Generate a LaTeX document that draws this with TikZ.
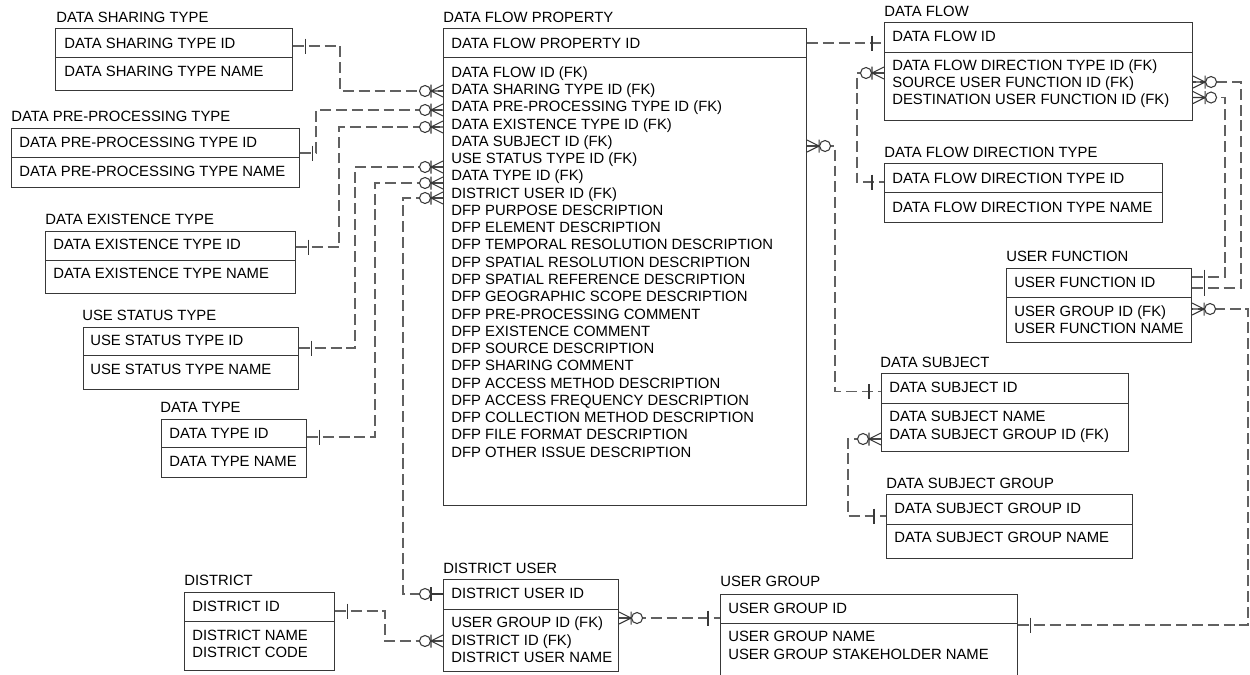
\documentclass[tikz,border=0pt]{standalone}
\usepackage{fontspec}
\setmainfont{Liberation Sans}

% entity box: name, left, top, right, divider, bottom
\newcommand\entity[6]{%
  \node[frame, minimum width={(#4-#2)*0.02cm}, minimum height={(#5-#3)*0.02cm}] (#1) at (#2,#3) {};
  \node[frame, minimum width={(#4-#2)*0.02cm}, minimum height={(#6-#5)*0.02cm}] (#1-a) at (#2,#5) {};
}
% relationship ends: coordinate on the box edge, direction (+1 = leaves to the right)
\newcommand\oneend[2]{\begin{scope}[shift={(#1)},xscale=#2]
  \draw[sym] (12,-7.5) -- (12,7.5);\end{scope}}
\newcommand\zeroone[2]{\begin{scope}[shift={(#1)},xscale=#2]
  \draw[sym] (0,0) -- (12,0) (12,-7) -- (12,7);
  \draw[sym,fill=white] (18,0) circle[radius=5.5];\end{scope}}
\newcommand\zeromany[2]{\begin{scope}[shift={(#1)},xscale=#2]
  \draw[sym] (0,-6) -- (12,0) -- (0,6) (0,0) -- (12,0) (12,-6.5) -- (12,6.5);
  \draw[sym,fill=white] (18,0) circle[radius=5.5];\end{scope}}

\begin{document}
\begin{tikzpicture}[x=0.02cm,y=-0.02cm,
  frame/.style={draw=black!78, line width=0.6pt, fill=white, inner sep=0pt, anchor=north west},
  lbl/.style={font=\fontsize{8.45}{10}\selectfont, inner sep=0pt, text height=6pt, text depth=0pt, anchor=west},
  conn/.style={draw=black!62, line width=0.6pt, dash pattern=on 6.2pt off 2.8pt},
  sym/.style={draw=black!78, line width=0.6pt},
]
\fill[white] (0,0) rectangle (1250,674);
\clip (0,0) rectangle (1250,674);

% ---------- entities ----------
\entity{dst}{55}{28}{292}{57}{90}
\node[lbl] (dst-t) at (56,17) {DATA SHARING TYPE};
\node[lbl] (dst-k) at (64,43) {DATA SHARING TYPE ID};
\node[lbl] (dst-f) at (64,71) {DATA SHARING TYPE NAME};

\entity{dpt}{11}{127.5}{299}{156.5}{187}
\node[lbl] (dpt-t) at (11,116) {DATA PRE-PROCESSING TYPE};
\node[lbl] (dpt-k) at (19,142) {DATA PRE-PROCESSING TYPE ID};
\node[lbl] (dpt-f) at (19,171) {DATA PRE-PROCESSING TYPE NAME};

\entity{det}{45}{230.5}{295}{260}{293}
\node[lbl] (det-t) at (45,219) {DATA EXISTENCE TYPE};
\node[lbl] (det-k) at (53,244) {DATA EXISTENCE TYPE ID};
\node[lbl] (det-f) at (53,273) {DATA EXISTENCE TYPE NAME};

\entity{ust}{82.5}{327}{298}{354.5}{389}
\node[lbl] (ust-t) at (82,315) {USE STATUS TYPE};
\node[lbl] (ust-k) at (90,340) {USE STATUS TYPE ID};
\node[lbl] (ust-f) at (90,369) {USE STATUS TYPE NAME};

\entity{dty}{161}{419}{306}{447}{477}
\node[lbl] (dty-t) at (160,407) {DATA TYPE};
\node[lbl] (dty-k) at (169,433) {DATA TYPE ID};
\node[lbl] (dty-f) at (169,461) {DATA TYPE NAME};

\entity{dfp}{443}{28}{806}{57}{505}
\node[lbl] (dfp-t) at (443,17) {DATA FLOW PROPERTY};
\node[lbl] (dfp-k) at (451,43) {DATA FLOW PROPERTY ID};
\foreach \t [count=\i from 0] in {DATA FLOW ID (FK), DATA SHARING TYPE ID (FK),
  DATA PRE-PROCESSING TYPE ID (FK), DATA EXISTENCE TYPE ID (FK), DATA SUBJECT ID (FK),
  USE STATUS TYPE ID (FK), DATA TYPE ID (FK), DISTRICT USER ID (FK),
  DFP PURPOSE DESCRIPTION, DFP ELEMENT DESCRIPTION, DFP TEMPORAL RESOLUTION DESCRIPTION,
  DFP SPATIAL RESOLUTION DESCRIPTION, DFP SPATIAL REFERENCE DESCRIPTION,
  DFP GEOGRAPHIC SCOPE DESCRIPTION, DFP PRE-PROCESSING COMMENT, DFP EXISTENCE COMMENT,
  DFP SOURCE DESCRIPTION, DFP SHARING COMMENT, DFP ACCESS METHOD DESCRIPTION,
  DFP ACCESS FREQUENCY DESCRIPTION, DFP COLLECTION METHOD DESCRIPTION,
  DFP FILE FORMAT DESCRIPTION, DFP OTHER ISSUE DESCRIPTION}
  \node[lbl] (dfp-f\i) at (451,{72+17.27*\i}) {\t};

\entity{df}{884}{22}{1192}{52}{120}
\node[lbl] (df-t) at (884,11) {DATA FLOW};
\node[lbl] (df-k) at (892,36) {DATA FLOW ID};
\node[lbl] (df-f1) at (892,65.5) {DATA FLOW DIRECTION TYPE ID (FK)};
\node[lbl] (df-f2) at (892,82.5) {SOURCE USER FUNCTION ID (FK)};
\node[lbl] (df-f3) at (892,99.5) {DESTINATION USER FUNCTION ID (FK)};

\entity{dfdt}{884}{163}{1162}{192}{222}
\node[lbl] (dfdt-t) at (884,152) {DATA FLOW DIRECTION TYPE};
\node[lbl] (dfdt-k) at (892,178) {DATA FLOW DIRECTION TYPE ID};
\node[lbl] (dfdt-f) at (892,207) {DATA FLOW DIRECTION TYPE NAME};

\entity{uf}{1006}{268}{1191}{297}{342}
\node[lbl] (uf-t) at (1006,256) {USER FUNCTION};
\node[lbl] (uf-k) at (1014,282) {USER FUNCTION ID};
\node[lbl] (uf-f1) at (1014,311) {USER GROUP ID (FK)};
\node[lbl] (uf-f2) at (1014,328) {USER FUNCTION NAME};

\entity{ds}{881}{373.3}{1128}{402.7}{451}
\node[lbl] (ds-t) at (880,362) {DATA SUBJECT};
\node[lbl] (ds-k) at (889,387) {DATA SUBJECT ID};
\node[lbl] (ds-f1) at (889,416.5) {DATA SUBJECT NAME};
\node[lbl] (ds-f2) at (889,434) {DATA SUBJECT GROUP ID (FK)};

\entity{dsg}{886}{494}{1132}{523.7}{557.7}
\node[lbl] (dsg-t) at (886,483) {DATA SUBJECT GROUP};
\node[lbl] (dsg-k) at (894,508) {DATA SUBJECT GROUP ID};
\node[lbl] (dsg-f) at (894,537) {DATA SUBJECT GROUP NAME};

\entity{dist}{184}{591.7}{334}{620.7}{670}
\node[lbl] (dist-t) at (184,580) {DISTRICT};
\node[lbl] (dist-k) at (192,606) {DISTRICT ID};
\node[lbl] (dist-f1) at (192,635) {DISTRICT NAME};
\node[lbl] (dist-f2) at (192,652) {DISTRICT CODE};

\entity{du}{443}{579.3}{618}{608.5}{671}
\node[lbl] (du-t) at (443,568) {DISTRICT USER};
\node[lbl] (du-k) at (451,593.5) {DISTRICT USER ID};
\node[lbl] (du-f1) at (451,622) {USER GROUP ID (FK)};
\node[lbl] (du-f2) at (451,640) {DISTRICT ID (FK)};
\node[lbl] (du-f3) at (451,657.5) {DISTRICT USER NAME};

\entity{ug}{720}{594}{1017}{623}{700}
\node[lbl] (ug-t) at (720,581) {USER GROUP};
\node[lbl] (ug-k) at (728,608) {USER GROUP ID};
\node[lbl] (ug-f1) at (728,636) {USER GROUP NAME};
\node[lbl] (ug-f2) at (728,654) {USER GROUP STAKEHOLDER NAME};

% ---------- connector end points ----------
\coordinate (c1a) at (dst.east |- 0,46);    \coordinate (c1b) at (dfp-a.west |- 0,91);
\coordinate (c2a) at (dpt.east |- 0,153);   \coordinate (c2b) at (dfp-a.west |- 0,110);
\coordinate (c3a) at (det.east |- 0,247);   \coordinate (c3b) at (dfp-a.west |- 0,127);
\coordinate (c4a) at (ust.east |- 0,348);   \coordinate (c4b) at (dfp-a.west |- 0,167);
\coordinate (c5a) at (dty.east |- 0,437);   \coordinate (c5b) at (dfp-a.west |- 0,183);
\coordinate (c6a) at (du.west |- 0,594);    \coordinate (c6b) at (dfp-a.west |- 0,198);
\coordinate (c7a) at (dist.east |- 0,611);  \coordinate (c7b) at (du-a.west |- 0,641);
\coordinate (c8a) at (ug.west |- 0,618);    \coordinate (c8b) at (du-a.east |- 0,618);
\coordinate (c9a) at (ug-a.east |- 0,625);  \coordinate (c9b) at (uf-a.east |- 0,309);
\coordinate (c10a) at (uf.east |- 0,288);   \coordinate (c10b) at (df-a.east |- 0,82);
\coordinate (c11a) at (uf.east |- 0,277);   \coordinate (c11b) at (df-a.east |- 0,97.5);
\coordinate (c12a) at (dfp.east |- 0,43);   \coordinate (c12b) at (df.west |- 0,43);
\coordinate (c13a) at (dfdt.west |- 0,182); \coordinate (c13b) at (df-a.west |- 0,73);
\coordinate (c14a) at (ds.west |- 0,391.5); \coordinate (c14b) at (dfp-a.east |- 0,146);
\coordinate (c15a) at (dsg.west |- 0,516);  \coordinate (c15b) at (ds-a.west |- 0,439);

% ---------- relationship lines ----------
\draw[conn] (c1a) -| (340,91) -- (c1b);
\draw[conn] (c2a) -| (316,110) -- (c2b);
\draw[conn] (c3a) -| (339,127) -- (c3b);
\draw[conn] (c4a) -| (355,167) -- (c4b);
\draw[conn] (c5a) -| (375,183) -- (c5b);
\draw[conn] (c6b) -| (403,594) -- (c6a);
\draw[conn] (c7a) -| (385,641) -- (c7b);
\draw[conn] (c8b) -- (c8a);
\draw[conn] (c9a) -| (1248,309) -- (c9b);
\draw[conn] (c10a) -| (1241,82) -- (c10b);
\draw[conn] (c11a) -| (1225,97.5) -- (c11b);
\draw[conn] (c12a) -- (c12b);
\draw[conn] (c13b) -| (857,182) -- (c13a);
\draw[conn] (c14b) -| (835,391.5) -- (c14a);
\draw[conn] (c15b) -| (848,516) -- (c15a);

% ---------- cardinality marks ----------
\oneend{c1a}{1}   \zeromany{c1b}{-1}
\oneend{c2a}{1}   \zeromany{c2b}{-1}
\oneend{c3a}{1}   \zeromany{c3b}{-1}
\oneend{c4a}{1}   \zeromany{c4b}{-1}
\oneend{c5a}{1}   \zeromany{c5b}{-1}
\zeroone{c6a}{-1} \zeromany{c6b}{-1}
\oneend{c7a}{1}   \zeromany{c7b}{-1}
\oneend{c8a}{-1}  \zeromany{c8b}{1}
\oneend{c9a}{1}   \zeromany{c9b}{1}
\oneend{c10a}{1}  \zeromany{c10b}{1}
\oneend{c11a}{1}  \zeromany{c11b}{1}
\oneend{c12b}{-1}
\oneend{c13a}{-1} \zeromany{c13b}{-1}
\oneend{c14a}{-1} \zeromany{c14b}{1}
\oneend{c15a}{-1} \zeromany{c15b}{-1}
\end{tikzpicture}
\end{document}
